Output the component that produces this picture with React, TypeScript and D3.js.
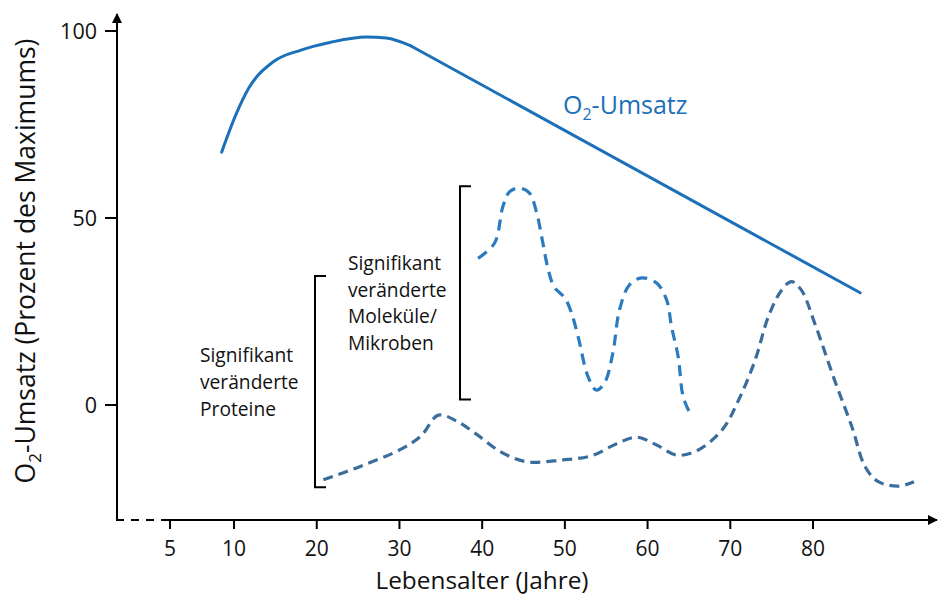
import React from "react";
import * as d3 from "d3";

// ---- data ----
const xTickValues = [5, 10, 20, 30, 40, 50, 60, 70, 80];
const yTickValues = [0, 50, 100];

// O2-Umsatz (solid line): curved rise, then straight decline
const o2CurveAge = [8.5, 10.2, 11.8, 14.7, 18.1, 21.7, 26, 28.4, 31.4];
const o2CurveValue = [67.6, 77.5, 84.8, 91.7, 94.9, 97, 98.4, 98.1, 96];
const o2LineAge = [31.4, 85.7];
const o2LineValue = [96, 30];

// Significantly changed molecules / microbes (upper dashed)
const molAge = [39.5, 41.5, 42.5, 43.3, 44.5, 45.7, 46.6, 47.2, 48, 48.7, 50, 50.8, 51.6, 52.8, 53.8, 54.8, 55.8, 56.6, 57.8, 59.3, 61.1, 62.3, 62.9, 63.7, 64.3, 65.1];
const molValue = [39.2, 43.3, 53, 57, 58, 56.7, 51.3, 44.9, 36.1, 31.6, 28.6, 24.6, 18.3, 7.6, 4, 5.9, 13.9, 25.4, 32.1, 34, 32.6, 28.1, 20.9, 12.9, 2.2, -2.1];

// Significantly changed proteins (lower dashed)
const protAge = [20.8, 25.4, 30.2, 32.6, 34.7, 36.9, 39.3, 42.3, 45.4, 49.6, 53.2, 56.2, 58.7, 61.1, 63.5, 65.9, 69, 71, 73, 74.6, 76.2, 77.4, 78.6, 80.2, 82.6, 84.7, 86.3, 87.9, 90.4, 92.2];
const protValue = [-20, -16.3, -11.8, -8.3, -2.7, -4.3, -7.8, -12.6, -15.2, -14.7, -13.6, -10.4, -8.6, -10.7, -13.4, -12.3, -6.7, 1.3, 12, 23.6, 30.7, 33, 30.7, 21.9, 6.7, -5.8, -16.5, -20.5, -21.7, -20.5];

const protLabel = ["Signifikant", "veränderte", "Proteine"];
const molLabel = ["Signifikant", "veränderte", "Moleküle/", "Mikroben"];
const protBracket = [-22, 34.5]; // value range
const molBracket = [1.5, 58.5];

const FONT = "'Open Sans', Lato, sans-serif";

export default function App() {
  const W = 938;
  const H = 598;
  // broken axis: the "5" tick sits left of the regular 10..80 spacing
  const x = d3.scaleLinear().domain([5, 8, 80]).range([170, 217.5, 813]);
  const y = d3.scaleLinear().domain([0, 100]).range([405, 31]);
  const axisX = 117;
  const axisY = 520;

  const pts = (a: number[], v: number[]) => a.map((d, i) => [d, v[i]] as [number, number]);

  const smooth = d3
    .line<[number, number]>()
    .x((d) => x(d[0]))
    .y((d) => y(d[1]))
    .curve(d3.curveMonotoneX);
  const straight = d3
    .line<[number, number]>()
    .x((d) => x(d[0]))
    .y((d) => y(d[1]));
  const catmull = d3
    .line<[number, number]>()
    .x((d) => x(d[0]))
    .y((d) => y(d[1]))
    .curve(d3.curveCatmullRom.alpha(0.5));

  const bracket = (bx: number, r: number[]) =>
    `M${bx + 11},${y(r[1])}H${bx}V${y(r[0])}H${bx + 11}`;

  return (
    <div style={{ position: "fixed", left: 0, top: 0, width: W, height: H, background: "#fff" }}>
      <svg width={W} height={H} style={{ display: "block" }} fontFamily={FONT}>
        <defs>
          <marker id="arr" viewBox="0 0 10 10" refX="9" refY="5" markerWidth="10" markerHeight="10" markerUnits="userSpaceOnUse" orient="auto">
            <path d="M0,0L10,5L0,10z" fill="#000" />
          </marker>
        </defs>

        {/* y axis */}
        <line x1={axisX} y1={axisY} x2={axisX} y2={14} stroke="#000" strokeWidth={2} markerEnd="url(#arr)" />
        {yTickValues.map((t) => (
          <g key={t}>
            <line x1={axisX - 12} x2={axisX} y1={y(t)} y2={y(t)} stroke="#000" strokeWidth={2} />
            <text x={97} y={y(t)} dy="0.36em" textAnchor="end" fontSize={21.5} fill="#111">
              {t}
            </text>
          </g>
        ))}

        {/* x axis */}
        <line x1={axisX - 1} y1={axisY} x2={162} y2={axisY} stroke="#000" strokeWidth={2} strokeDasharray="8 7" />
        <line x1={162} y1={axisY} x2={937} y2={axisY} stroke="#000" strokeWidth={2} markerEnd="url(#arr)" />
        {xTickValues.map((t) => (
          <g key={t}>
            <line x1={x(t)} x2={x(t)} y1={axisY} y2={axisY + 9} stroke="#000" strokeWidth={2} />
            <text x={x(t)} y={556} textAnchor="middle" fontSize={21} fill="#111">
              {t}
            </text>
          </g>
        ))}

        <text x={482} y={589} textAnchor="middle" fontSize={24.4} fill="#111">
          Lebensalter (Jahre)
        </text>
        <text transform="translate(35,261) rotate(-90)" textAnchor="middle" fontSize={26.5} fill="#111">
          O<tspan dy={6} fontSize={17}>2</tspan>
          <tspan dy={-6}>-Umsatz (Prozent des Maximums)</tspan>
        </text>

        {/* O2 line */}
        <path d={smooth(pts(o2CurveAge, o2CurveValue)) || ""} fill="none" stroke="#1b70b9" strokeWidth={3} strokeLinecap="round" />
        <path d={straight(pts(o2LineAge, o2LineValue)) || ""} fill="none" stroke="#1b70b9" strokeWidth={3} strokeLinecap="round" />
        <text x={563} y={114} fontSize={25} fill="#1b70b9">
          O<tspan dy={6} fontSize={16}>2</tspan>
          <tspan dy={-6}>-Umsatz</tspan>
        </text>

        {/* molecules dashed */}
        <path d={catmull(pts(molAge, molValue)) || ""} fill="none" stroke="#2a7bbf" strokeWidth={3.2} strokeDasharray="11 7" />
        {/* proteins dashed */}
        <path d={catmull(pts(protAge, protValue)) || ""} fill="none" stroke="#3a6d9c" strokeWidth={3.2} strokeDasharray="10 6" />

        {/* brackets */}
        <path d={bracket(315, protBracket)} fill="none" stroke="#000" strokeWidth={2} />
        <path d={bracket(460, molBracket)} fill="none" stroke="#000" strokeWidth={2} />

        <text fontSize={19.2} fill="#111">
          {protLabel.map((s, i) => (
            <tspan key={i} x={200} y={362 + i * 27}>
              {s}
            </tspan>
          ))}
        </text>
        <text fontSize={19.2} fill="#111">
          {molLabel.map((s, i) => (
            <tspan key={i} x={348} y={270 + i * 26.7}>
              {s}
            </tspan>
          ))}
        </text>
      </svg>
    </div>
  );
}
